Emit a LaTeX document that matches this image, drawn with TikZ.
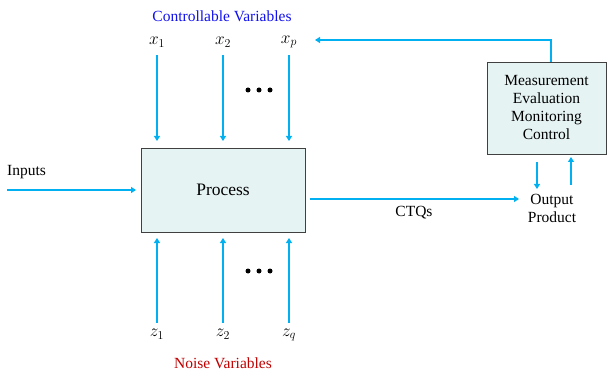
\documentclass[tikz,border=0pt]{standalone}
\usepackage{fontspec}
\setmainfont{Liberation Serif}
\usetikzlibrary{arrows.meta}
\definecolor{flow}{HTML}{00B0F0}
\definecolor{boxfill}{HTML}{E6F3F3}
\definecolor{boxline}{HTML}{404040}
\definecolor{ctrlblue}{HTML}{1010F0}
\definecolor{noisered}{HTML}{C00000}
\tikzset{
  flowarrow/.style={draw=flow, line width=1.8pt, -{Triangle[width=6pt,length=5pt]}},
  block/.style={draw=boxline, fill=boxfill, line width=0.8pt, inner sep=0pt},
  lbl/.style={font=\fontsize{15.5}{18}\selectfont, inner sep=0pt},
  var/.style={font=\fontsize{18}{20}\selectfont, inner sep=0pt},
  dot/.style={circle, fill=black, inner sep=0pt, minimum size=5pt},
}
\begin{document}
\begin{tikzpicture}[x=1pt, y=-1pt]
  \useasboundingbox (0,0) rectangle (607,371);

  % main process block and the evaluation block
  \node[block, minimum width=164pt, minimum height=84pt] (proc) at (223,190) {};
  \node[lbl] (ptext) at (proc.center) {\fontsize{17.5}{20}\selectfont Process};
  \node[block, minimum width=119pt, minimum height=92pt] (meas) at (546.5,108) {};
  \node[lbl, align=center] (mtext) at (meas.center) {Measurement\\Evaluation\\Monitoring\\Control};

  % controllable inputs
  \node[lbl, text=ctrlblue] (ctitle) at (222,16) {Controllable Variables};
  \node[var] (x1) at (157,42) {$x_1$};
  \node[var] (x2) at (223,42) {$x_2$};
  \node[var] (xp) at (289,42) {$x_p$};
  \coordinate (x1s) at (157,55);  \coordinate (x1e) at (157,141);
  \coordinate (x2s) at (223,55);  \coordinate (x2e) at (223,141);
  \coordinate (xps) at (289,55);  \coordinate (xpe) at (289,141);
  \draw[flowarrow] (x1s) -- (x1e);
  \draw[flowarrow] (x2s) -- (x2e);
  \draw[flowarrow] (xps) -- (xpe);
  \node[dot] (td1) at (248,90) {};
  \node[dot] (td2) at (259,90) {};
  \node[dot] (td3) at (270,90) {};

  % noise inputs
  \node[lbl, text=noisered] (ntitle) at (223,363) {Noise Variables};
  \node[var] (z1) at (157,334) {$z_1$};
  \node[var] (z2) at (223,334) {$z_2$};
  \node[var] (zq) at (289,335) {$z_q$};
  \coordinate (z1s) at (157,323);  \coordinate (z1e) at (157,238);
  \coordinate (z2s) at (223,323);  \coordinate (z2e) at (223,238);
  \coordinate (zqs) at (289,323);  \coordinate (zqe) at (289,238);
  \draw[flowarrow] (z1s) -- (z1e);
  \draw[flowarrow] (z2s) -- (z2e);
  \draw[flowarrow] (zqs) -- (zqe);
  \node[dot] (bd1) at (248,271) {};
  \node[dot] (bd2) at (259,271) {};
  \node[dot] (bd3) at (270,271) {};

  % inputs and outputs
  \node[lbl, anchor=west] (inputs) at (7,172) {Inputs};
  \coordinate (ins) at (7,190);
  \coordinate (ine) at (136,190);
  \draw[flowarrow] (ins) -- (ine);
  \node[lbl, align=center] (out) at (552,208) {Output\\Product};
  \coordinate (ctqs) at (310,199);
  \coordinate (ctqe) at (519,199);
  \draw[flowarrow] (ctqs) -- (ctqe);
  \node[lbl] (ctq) at (414,213) {CTQs};

  % links between output and evaluation
  \coordinate (dn1) at (537,162); \coordinate (dn2) at (537,189);
  \coordinate (up1) at (571,185); \coordinate (up2) at (571,157);
  \draw[flowarrow] (dn1) -- (dn2);
  \draw[flowarrow] (up1) -- (up2);

  % feedback to the controllable variables
  \coordinate (fbstart) at (551,62);
  \coordinate (fbturn) at (551,40);
  \coordinate (fbend) at (315,40);
  \draw[flowarrow] (fbstart) -- (fbturn) -- (fbend);
\end{tikzpicture}
\end{document}
